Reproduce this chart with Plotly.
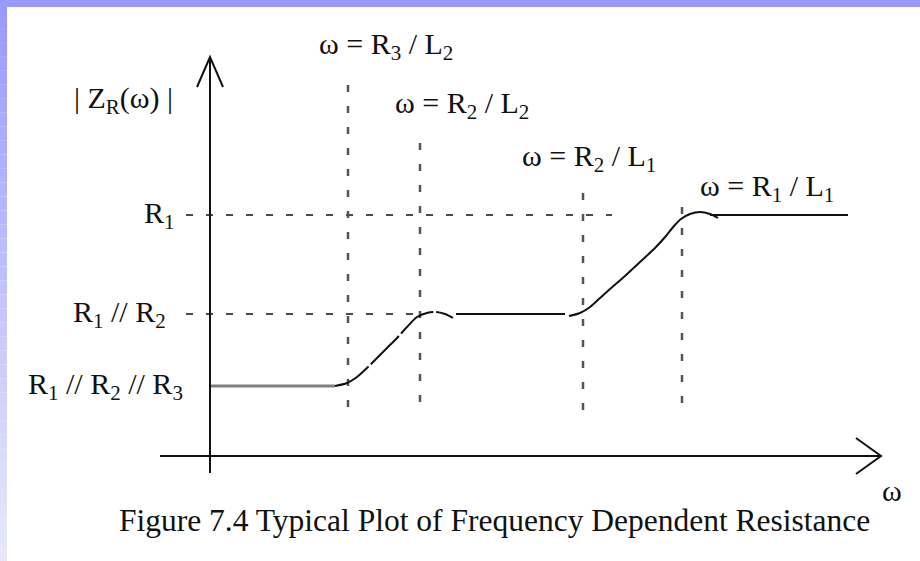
import plotly.graph_objects as go

# Break frequencies on the ω axis and their labels
break_omegas = [1.38, 2.10, 3.73, 4.72]
break_labels = [
    "ω = R<sub>3</sub> / L<sub>2</sub>",
    "ω = R<sub>2</sub> / L<sub>2</sub>",
    "ω = R<sub>2</sub> / L<sub>1</sub>",
    "ω = R<sub>1</sub> / L<sub>1</sub>",
]
# vertical extent of each break-frequency guide (|Z| units)
break_guide_top = [3.84, 3.23, 2.68, 2.63]
break_guide_bottom = [0.49, 0.54, 0.46, 0.53]

# Resistance plateaus (low, middle, high)
level_values = [0.70, 1.42, 2.41]
level_labels = [
    "R<sub>1</sub> // R<sub>2</sub> // R<sub>3</sub>",
    "R<sub>1</sub> // R<sub>2</sub>",
    "R<sub>1</sub>",
]

# |Z_R(ω)| curve, piece by piece
low_omega = [0.0, 1.25]
rise1_omega = [1.25, 1.37, 1.47, 1.57, 1.67, 1.77, 1.87, 1.97, 2.07, 2.17, 2.26, 2.35, 2.43]
rise1_z = [0.70, 0.73, 0.79, 0.88, 0.98, 1.08, 1.18, 1.29, 1.39, 1.43, 1.44, 1.42, 1.38]
mid_omega = [2.46, 3.55]
rise2_omega = [3.59, 3.70, 3.80, 3.90, 4.00, 4.15, 4.30, 4.45, 4.56, 4.64, 4.71, 4.80, 4.90, 5.00, 5.08]
rise2_z = [1.40, 1.43, 1.49, 1.58, 1.67, 1.80, 1.94, 2.08, 2.20, 2.30, 2.37, 2.42, 2.44, 2.42, 2.38]
high_omega = [5.00, 6.38]

SERIF = "Liberation Serif, Times New Roman, serif"
INK = "#111111"

fig = go.Figure()

# plateaus and transitions
fig.add_trace(go.Scatter(x=low_omega, y=[level_values[0]] * 2, mode="lines",
                         line=dict(color="#808080", width=3)))
fig.add_trace(go.Scatter(x=rise1_omega, y=rise1_z, mode="lines",
                         line=dict(color=INK, width=2, shape="spline", smoothing=0.8,
                                   dash="40px,3px")))
fig.add_trace(go.Scatter(x=mid_omega, y=[level_values[1]] * 2, mode="lines",
                         line=dict(color=INK, width=2)))
fig.add_trace(go.Scatter(x=rise2_omega, y=rise2_z, mode="lines",
                         line=dict(color=INK, width=2, shape="spline", smoothing=0.8)))
fig.add_trace(go.Scatter(x=high_omega, y=[level_values[2]] * 2, mode="lines",
                         line=dict(color=INK, width=2)))

shapes = []

# horizontal dashed guides at the two upper plateaus
for lvl, x_end in zip(level_values[1:], [2.12, 4.02]):
    shapes.append(dict(type="line", xref="x", yref="y", x0=-0.24, x1=x_end, y0=lvl, y1=lvl,
                       line=dict(color=INK, width=1.6, dash="7px,13px"), layer="below"))

# vertical dotted guides at the break frequencies
for w, top, bot in zip(break_omegas, break_guide_top, break_guide_bottom):
    shapes.append(dict(type="line", xref="x", yref="y", x0=w, x1=w, y0=bot, y1=top,
                       line=dict(color="#555555", width=2.5, dash="7px,14px"), layer="below"))

# coordinate axes with open arrowheads
y_axis_top, x_axis_end = 3.99, 6.71
shapes.append(dict(type="line", xref="x", yref="y", x0=0, x1=0, y0=-0.17, y1=y_axis_top,
                   line=dict(color=INK, width=2)))
shapes.append(dict(type="line", xref="x", yref="y", x0=-0.50, x1=x_axis_end, y0=0, y1=0,
                   line=dict(color=INK, width=2)))
shapes.append(dict(type="path", xref="x", yref="y", xsizemode="pixel", ysizemode="pixel",
                   xanchor=0, yanchor=y_axis_top, path="M-13,-30 L0,0 L13,-30",
                   line=dict(color=INK, width=2)))
shapes.append(dict(type="path", xref="x", yref="y", xsizemode="pixel", ysizemode="pixel",
                   xanchor=x_axis_end, yanchor=0, path="M-25,18 L0,0 L-25,-18",
                   line=dict(color=INK, width=2)))

# slide-style frame: solid top band and a fading left band
shapes.append(dict(type="rect", xref="paper", yref="paper", x0=0, x1=1, y0=1 - 7 / 561, y1=1,
                   fillcolor="#9999FF", line=dict(width=0)))
n_steps = 40
top_rgb, bot_rgb = (153, 153, 255), (232, 232, 250)
for i in range(n_steps):
    t = i / (n_steps - 1)
    rgb = tuple(round(a + (b - a) * t) for a, b in zip(top_rgb, bot_rgb))
    shapes.append(dict(type="rect", xref="paper", yref="paper", x0=0, x1=7 / 920,
                       y0=1 - (i + 1) / n_steps, y1=1 - i / n_steps,
                       fillcolor="rgb(%d,%d,%d)" % rgb, line=dict(width=0)))

annotations = []
label_font = dict(family=SERIF, size=30, color=INK)

# break-frequency labels
for w, txt, y, dx in zip(break_omegas, break_labels, [4.10, 3.51, 2.98, 2.68], [-31, -27, -63, 16]):
    annotations.append(dict(x=w, y=y, xref="x", yref="y", text=txt, showarrow=False,
                            xanchor="left", yanchor="middle", xshift=dx, font=label_font))

# plateau labels
for lvl, txt, x_right in zip(level_values, level_labels, [-0.25, -0.42, -0.33]):
    annotations.append(dict(x=x_right, y=lvl, xref="x", yref="y", text=txt, showarrow=False,
                            xanchor="right", yanchor="middle", font=label_font))

# axis titles
annotations.append(dict(x=-0.35, y=3.56, xref="x", yref="y", text="| Z<sub>R</sub>(ω) |",
                        showarrow=False, xanchor="right", yanchor="middle", font=label_font))
annotations.append(dict(x=6.82, y=-0.34, xref="x", yref="y", text="ω",
                        showarrow=False, xanchor="center", yanchor="middle", font=label_font))

# caption
annotations.append(dict(x=495 / 920, y=1 - 520 / 561, xref="paper", yref="paper",
                        text="Figure 7.4 Typical Plot of Frequency Dependent Resistance",
                        showarrow=False, xanchor="center", yanchor="middle",
                        font=dict(family=SERIF, size=31.5, color=INK)))

fig.update_layout(
    width=920, height=561,
    margin=dict(l=0, r=0, t=0, b=0),
    paper_bgcolor="white", plot_bgcolor="white",
    showlegend=False,
    xaxis=dict(range=[-2.10, 7.10], visible=False, fixedrange=True),
    yaxis=dict(range=[-1.05, 4.56], visible=False, fixedrange=True),
    shapes=shapes,
    annotations=annotations,
)

fig.write_html("out.html")
